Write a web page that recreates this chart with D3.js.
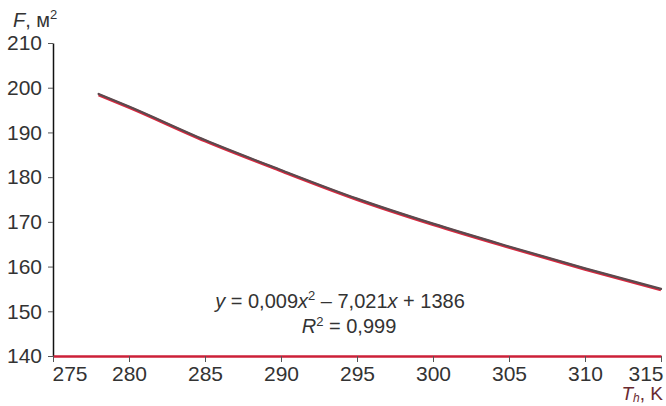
<!DOCTYPE html>
<html>
<head>
<meta charset="utf-8">
<script src="https://cdn.jsdelivr.net/npm/d3@7"></script>
<style>
  body { margin: 0; background: #fff; }
  text { font-family: "Liberation Sans Narrow", "Arial Narrow", "Liberation Sans", Arial, sans-serif; fill: #333; }
</style>
</head>
<body>
<script>
const width = 666;
const height = 406;

// temperature, K
const temps = [278, 280, 285, 290, 295, 300, 305, 310, 315];
// area F, m2
const areas = [198.6, 195.8, 188.3, 181.6, 175.2, 169.6, 164.5, 159.6, 155.0];
// polynomial trend line as drawn (sits right under the data line)
const trend = [198.4, 195.6, 188.1, 181.4, 175.0, 169.4, 164.3, 159.4, 154.8];

const xTicks = [275, 280, 285, 290, 295, 300, 305, 310, 315];
const yTicks = [140, 150, 160, 170, 180, 190, 200, 210];

const margin = { top: 43, right: 5, bottom: 50, left: 53 };

const svg = d3
  .select("body")
  .append("svg")
  .attr("width", width)
  .attr("height", height);

const x = d3.scaleLinear().domain([275, 315]).range([margin.left, width - margin.right]);
const y = d3.scaleLinear().domain([140, 210]).range([height - margin.bottom, margin.top]);

// y axis
const yAxis = svg
  .append("g")
  .attr("transform", `translate(${margin.left},0)`)
  .call(d3.axisLeft(y).tickValues(yTicks).tickSize(5).tickSizeOuter(0).tickPadding(6));
yAxis.select(".domain").attr("stroke", "#111").attr("stroke-width", 1.5);
yAxis.selectAll(".tick line").attr("stroke", "#555");
yAxis.selectAll(".tick text").attr("font-size", 21).attr("fill", "#333");

// x axis
const xAxis = svg
  .append("g")
  .attr("transform", `translate(0,${y(140)})`)
  .call(d3.axisBottom(x).tickValues(xTicks).tickSize(6).tickSizeOuter(0).tickPadding(4));
xAxis.select(".domain").attr("stroke", "#cc2038").attr("stroke-width", 2.5);
xAxis.selectAll(".tick line").attr("stroke", "#555");
xAxis.selectAll(".tick text").attr("font-size", 21).attr("fill", "#333");
xAxis.selectAll(".tick text").filter((d) => d === 275).attr("text-anchor", "start").attr("dx", -1);
xAxis.selectAll(".tick text").filter((d) => d === 315).attr("text-anchor", "end").attr("dx", 2);

// curves
const line = d3
  .line()
  .x((d, i) => x(temps[i]))
  .y((d) => y(d))
  .curve(d3.curveMonotoneX);

svg
  .append("path")
  .datum(trend)
  .attr("fill", "none")
  .attr("stroke", "#d8283f")
  .attr("stroke-width", 3)
  .attr("d", line);

svg
  .append("path")
  .datum(areas)
  .attr("fill", "none")
  .attr("stroke", "#5a4a4e")
  .attr("stroke-width", 2.2)
  .attr("stroke-linecap", "round")
  .attr("d", line);

// axis titles
const fTitle = svg.append("text").attr("x", 13).attr("y", 27).attr("font-size", 20);
fTitle.append("tspan").attr("font-style", "italic").text("F");
fTitle.append("tspan").text(", м");
fTitle.append("tspan").attr("font-size", 13).attr("dy", -8).text("2");

const tTitle = svg.append("text").attr("x", 663).attr("y", 400).attr("font-size", 19).attr("text-anchor", "end").attr("fill", "#6a2a30");
tTitle.append("tspan").attr("font-style", "italic").attr("fill", "#6a2a30").text("T");
tTitle.append("tspan").attr("font-style", "italic").attr("font-size", 12).attr("dy", 2).attr("fill", "#6a2a30").text("h");
tTitle.append("tspan").attr("dy", -2).attr("fill", "#6a2a30").text(", K");

// equation
const eq = svg.append("text").attr("x", 340).attr("y", 308).attr("font-size", 20).attr("text-anchor", "middle");
eq.append("tspan").attr("font-style", "italic").text("y");
eq.append("tspan").text(" = 0,009");
eq.append("tspan").attr("font-style", "italic").text("x");
eq.append("tspan").attr("font-size", 13).attr("dy", -8).text("2");
eq.append("tspan").attr("dy", 8).text(" – 7,021");
eq.append("tspan").attr("font-style", "italic").text("x");
eq.append("tspan").text(" + 1386");

const r2 = svg.append("text").attr("x", 349).attr("y", 333).attr("font-size", 20).attr("text-anchor", "middle");
r2.append("tspan").attr("font-style", "italic").text("R");
r2.append("tspan").attr("font-size", 13).attr("dy", -7).text("2");
r2.append("tspan").attr("dy", 7).text(" = 0,999");
</script>
</body>
</html>
